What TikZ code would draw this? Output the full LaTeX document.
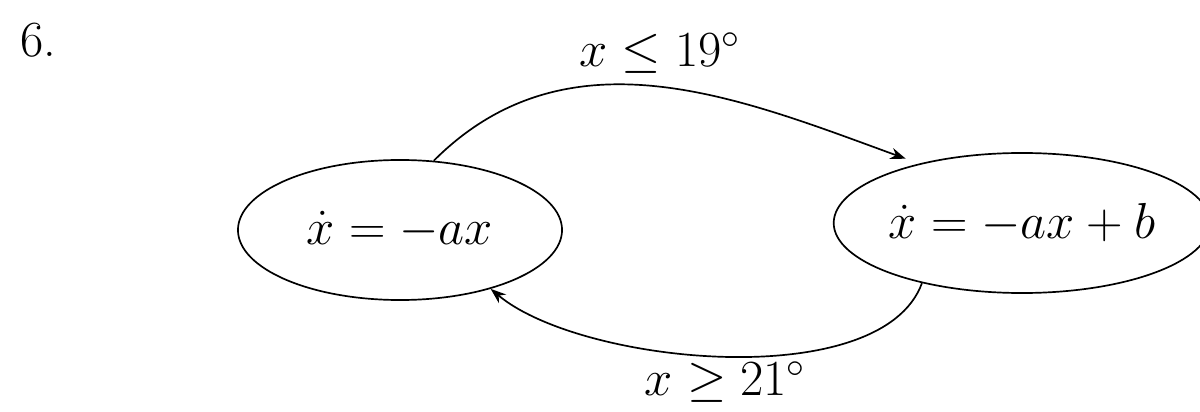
\RequirePackage{fix-cm}
\documentclass[tikz,border=0pt]{standalone}
\usetikzlibrary{arrows.meta,shapes.geometric}
\newcommand{\hand}{\fontsize{36}{42}\selectfont}

\begin{document}
\begin{tikzpicture}[x=0.025cm, y=-0.025cm, >={Stealth[length=11pt, width=8pt]}, line width=1.2pt,
  state/.style={ellipse, draw, inner sep=0pt, minimum height=3.5cm, font=\hand},
  guard/.style={font=\hand}]
  \useasboundingbox (0,0) rectangle (1200,412);
  \node[font=\hand] (num) at (38,40) {6.};
  \node[state, minimum width=8.1cm] (off) at (400,230) {$\dot{x} = -ax$};
  \node[state, minimum width=8.75cm] (on) at (1022,223) {$\dot{x} = -ax + b$};
  \draw[->, shorten >=10pt] (off.64) to[out=45, in=160] node[guard, above=6pt]{$x \leq 19^{\circ}$} (on.150);
  \draw[->] (on.-149) to[out=250, in=-40, looseness=0.7] node[guard, below]{$x \geq 21^{\circ}$} (off.-33);
\end{tikzpicture}
\end{document}
